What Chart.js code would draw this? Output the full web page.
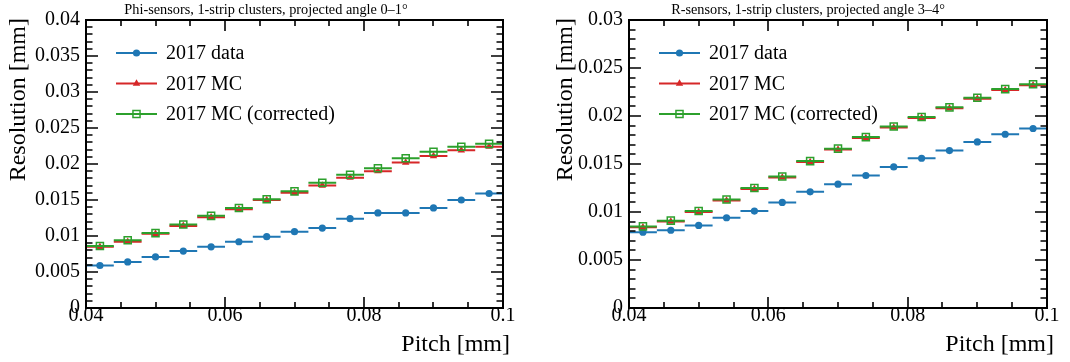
<!DOCTYPE html>
<html>
<head>
<meta charset="utf-8">
<script src="https://cdn.jsdelivr.net/npm/chart.js@4/dist/chart.umd.min.js"></script>
<style>
  html, body { margin: 0; padding: 0; background: #fff; }
  .pads { display: flex; width: 1070px; height: 362px; }
  .pad { width: 535px; height: 362px; }
</style>
</head>
<body>
<div class="pads">
  <div class="pad"><canvas id="phi_chart" width="535" height="362"></canvas></div>
  <div class="pad"><canvas id="r_chart" width="535" height="362"></canvas></div>
</div>
<script>
// bin centres of the pitch histogram (bin width 0.004 mm)
const pitchCentres = [0.042, 0.046, 0.050, 0.054, 0.058, 0.062, 0.066, 0.070, 0.074, 0.078, 0.082, 0.086, 0.090, 0.094, 0.098]
const binHalfWidth = 0.002

// Phi-sensors, projected angle 0-1 deg
const phiData   = [0.0059, 0.0064, 0.0071, 0.0079, 0.0085, 0.0092, 0.0099, 0.0106, 0.0111, 0.0124, 0.0132, 0.0132, 0.0139, 0.0150, 0.0159]
const phiMC     = [0.0085, 0.0092, 0.0103, 0.0114, 0.0126, 0.0137, 0.0150, 0.0160, 0.0170, 0.0181, 0.0190, 0.0202, 0.0211, 0.0219, 0.0224]
const phiMCcorr = [0.0086, 0.0094, 0.0104, 0.0116, 0.0128, 0.0139, 0.0151, 0.0162, 0.0174, 0.0185, 0.0194, 0.0208, 0.0217, 0.0224, 0.0228]

// R-sensors, projected angle 3-4 deg
const rData   = [0.0079, 0.0081, 0.0086, 0.0094, 0.0101, 0.0110, 0.0121, 0.0129, 0.0138, 0.0147, 0.0156, 0.0164, 0.0173, 0.0181, 0.0187]
const rMC     = [0.0084, 0.0090, 0.0100, 0.0112, 0.0124, 0.0136, 0.0152, 0.0165, 0.0177, 0.0188, 0.0198, 0.0208, 0.0218, 0.0227, 0.0232]
const rMCcorr = [0.0085, 0.0091, 0.0101, 0.0113, 0.0125, 0.0137, 0.0153, 0.0166, 0.0178, 0.0189, 0.0199, 0.0209, 0.0219, 0.0228, 0.0233]

const seriesNames = ['2017 data', '2017 MC', '2017 MC (corrected)']
const xTickLabels = ['0.04', '0.06', '0.08', '0.1']

const blue = '#1f77b4'
const red = '#d62728'
const green = '#2ca02c'
const serif = "'Liberation Serif', 'Times New Roman', serif"

// horizontal bin-width bars: one segment per bin, broken by null points
function binBars(values) {
    let pts = []
    values.forEach((v, i) => {
        pts.push({x: pitchCentres[i] - binHalfWidth, y: v})
        pts.push({x: pitchCentres[i] + binHalfWidth, y: v})
        pts.push({x: pitchCentres[i] + binHalfWidth, y: null})
    })
    return pts
}

function markers(values) {
    return values.map((v, i) => ({x: pitchCentres[i], y: v}))
}

const styles = [
    {color: blue,  pointStyle: 'circle',   radius: 3.6, fill: blue},
    {color: red,   pointStyle: 'triangle', radius: 4.3, fill: red},
    {color: green, pointStyle: 'rect',     radius: 5,   fill: 'rgba(0,0,0,0)'}
]

function drawMarker(ctx, style, x, y) {
    ctx.save()
    ctx.strokeStyle = style.color
    ctx.fillStyle = style.fill
    ctx.lineWidth = 1.5
    ctx.beginPath()
    if (style.pointStyle === 'circle') {
        ctx.arc(x, y, style.radius, 0, Math.PI * 2)
        ctx.fill()
    } else if (style.pointStyle === 'triangle') {
        let r = style.radius
        ctx.moveTo(x, y - r)
        ctx.lineTo(x + r * 0.866, y + r * 0.5)
        ctx.lineTo(x - r * 0.866, y + r * 0.5)
        ctx.closePath()
        ctx.fill()
    } else {
        let s = style.radius * Math.SQRT1_2
        ctx.rect(x - s, y - s, 2 * s, 2 * s)
        ctx.stroke()
    }
    ctx.restore()
}

// ROOT-like frame: inward ticks on all four sides, titles and legend
const rootFrame = {
    id: 'rootFrame',
    afterDraw(chart, args, opts) {
        let ctx = chart.ctx
        let area = chart.chartArea
        let xs = chart.scales.x
        let ys = chart.scales.y
        ctx.save()
        ctx.strokeStyle = '#000'
        ctx.lineWidth = 2
        ctx.strokeRect(area.left, area.top, area.right - area.left, area.bottom - area.top)

        ctx.lineWidth = 1.6
        ctx.beginPath()
        for (let k = 0; k <= 12; k++) {
            let v = 0.04 + k * 0.005
            let px = Math.round(xs.getPixelForValue(v))
            let len = (k % 4 === 0) ? 11 : 6
            ctx.moveTo(px, area.bottom); ctx.lineTo(px, area.bottom - len)
            ctx.moveTo(px, area.top); ctx.lineTo(px, area.top + len)
        }
        let nY = Math.round(opts.yMax / 0.001)
        for (let k = 0; k <= nY; k++) {
            let py = Math.round(ys.getPixelForValue(k * 0.001))
            let len = (k % 5 === 0) ? 12 : 6.5
            ctx.moveTo(area.left, py); ctx.lineTo(area.left + len, py)
            ctx.moveTo(area.right, py); ctx.lineTo(area.right - len, py)
        }
        ctx.stroke()

        // titles
        ctx.fillStyle = '#000'
        ctx.font = `14.3px ${serif}`
        ctx.textAlign = 'center'
        ctx.textBaseline = 'middle'
        ctx.fillText(opts.title, opts.titleX, 10)

        ctx.font = `24px ${serif}`
        ctx.textAlign = 'right'
        ctx.textBaseline = 'alphabetic'
        ctx.fillText('Pitch [mm]', area.right + 7, 351)

        ctx.save()
        ctx.translate(area.left - opts.yTitleOffset, 18)
        ctx.rotate(-Math.PI / 2)
        ctx.fillText('Resolution [mm]', 0, 0)
        ctx.restore()

        // legend
        ctx.font = `20px ${serif}`
        ctx.textAlign = 'left'
        ctx.textBaseline = 'middle'
        seriesNames.forEach((name, i) => {
            let y = area.top + 33 + i * 30.5
            let x0 = area.left + 30
            ctx.strokeStyle = styles[i].color
            ctx.lineWidth = 2
            ctx.beginPath()
            ctx.moveTo(x0, y); ctx.lineTo(x0 + 41, y)
            ctx.stroke()
            drawMarker(ctx, styles[i], x0 + 20.5, y)
            ctx.fillStyle = '#000'
            ctx.fillText(name, x0 + 50, y + 1)
        })
        ctx.restore()
    }
}

function makePanel(canvasId, values, panel) {
    let datasets = []
    values.forEach((vals, i) => {
        let st = styles[i]
        datasets.push({
            type: 'line',
            data: binBars(vals),
            borderColor: st.color,
            borderWidth: 2,
            pointRadius: 0,
            spanGaps: false,
            order: 10 - 2 * i
        })
        datasets.push({
            type: 'scatter',
            data: markers(vals),
            pointStyle: st.pointStyle,
            pointRadius: st.radius,
            backgroundColor: st.fill,
            borderColor: st.color,
            borderWidth: st.pointStyle === 'rect' ? 1.5 : 0,
            order: 9 - 2 * i
        })
    })

    return new Chart(document.getElementById(canvasId).getContext('2d'), {
        type: 'scatter',
        data: {datasets: datasets},
        options: {
            responsive: false,
            animation: false,
            layout: {padding: {top: 20, right: panel.padRight, bottom: 0, left: 0}},
            scales: {
                x: {
                    type: 'linear',
                    min: 0.04,
                    max: 0.1,
                    afterFit: (scale) => { scale.height = 54 },
                    afterBuildTicks: (scale) => {
                        scale.ticks = xTickLabels.map(t => ({value: parseFloat(t)}))
                    },
                    ticks: {
                        color: '#000',
                        padding: -4,
                        maxRotation: 0,
                        autoSkip: false,
                        font: {family: serif, size: 20},
                        callback: (v) => String(+v.toFixed(2))
                    },
                    grid: {display: false, drawTicks: false},
                    border: {display: false}
                },
                y: {
                    type: 'linear',
                    min: 0,
                    max: panel.yMax,
                    afterFit: (scale) => { scale.width = panel.yWidth },
                    ticks: {
                        stepSize: 0.005,
                        color: '#000',
                        padding: 6,
                        font: {family: serif, size: 20},
                        callback: (v) => String(+v.toFixed(3))
                    },
                    grid: {display: false, drawTicks: false},
                    border: {display: false}
                }
            },
            plugins: {
                legend: {display: false},
                tooltip: {enabled: false},
                rootFrame: {
                    title: panel.title,
                    titleX: panel.titleX,
                    yMax: panel.yMax,
                    yTitleOffset: panel.yTitleOffset
                }
            }
        },
        plugins: [rootFrame]
    })
}

makePanel('phi_chart', [phiData, phiMC, phiMCcorr], {
    title: 'Phi-sensors, 1-strip clusters, projected angle 0\u20131\u00b0',
    titleX: 266, yMax: 0.04, yWidth: 86, padRight: 32, yTitleOffset: 61
})
makePanel('r_chart', [rData, rMC, rMCcorr], {
    title: 'R-sensors, 1-strip clusters, projected angle 3\u20134\u00b0',
    titleX: 273, yMax: 0.03, yWidth: 94, padRight: 23, yTitleOffset: 57
})
</script>
</body>
</html>
